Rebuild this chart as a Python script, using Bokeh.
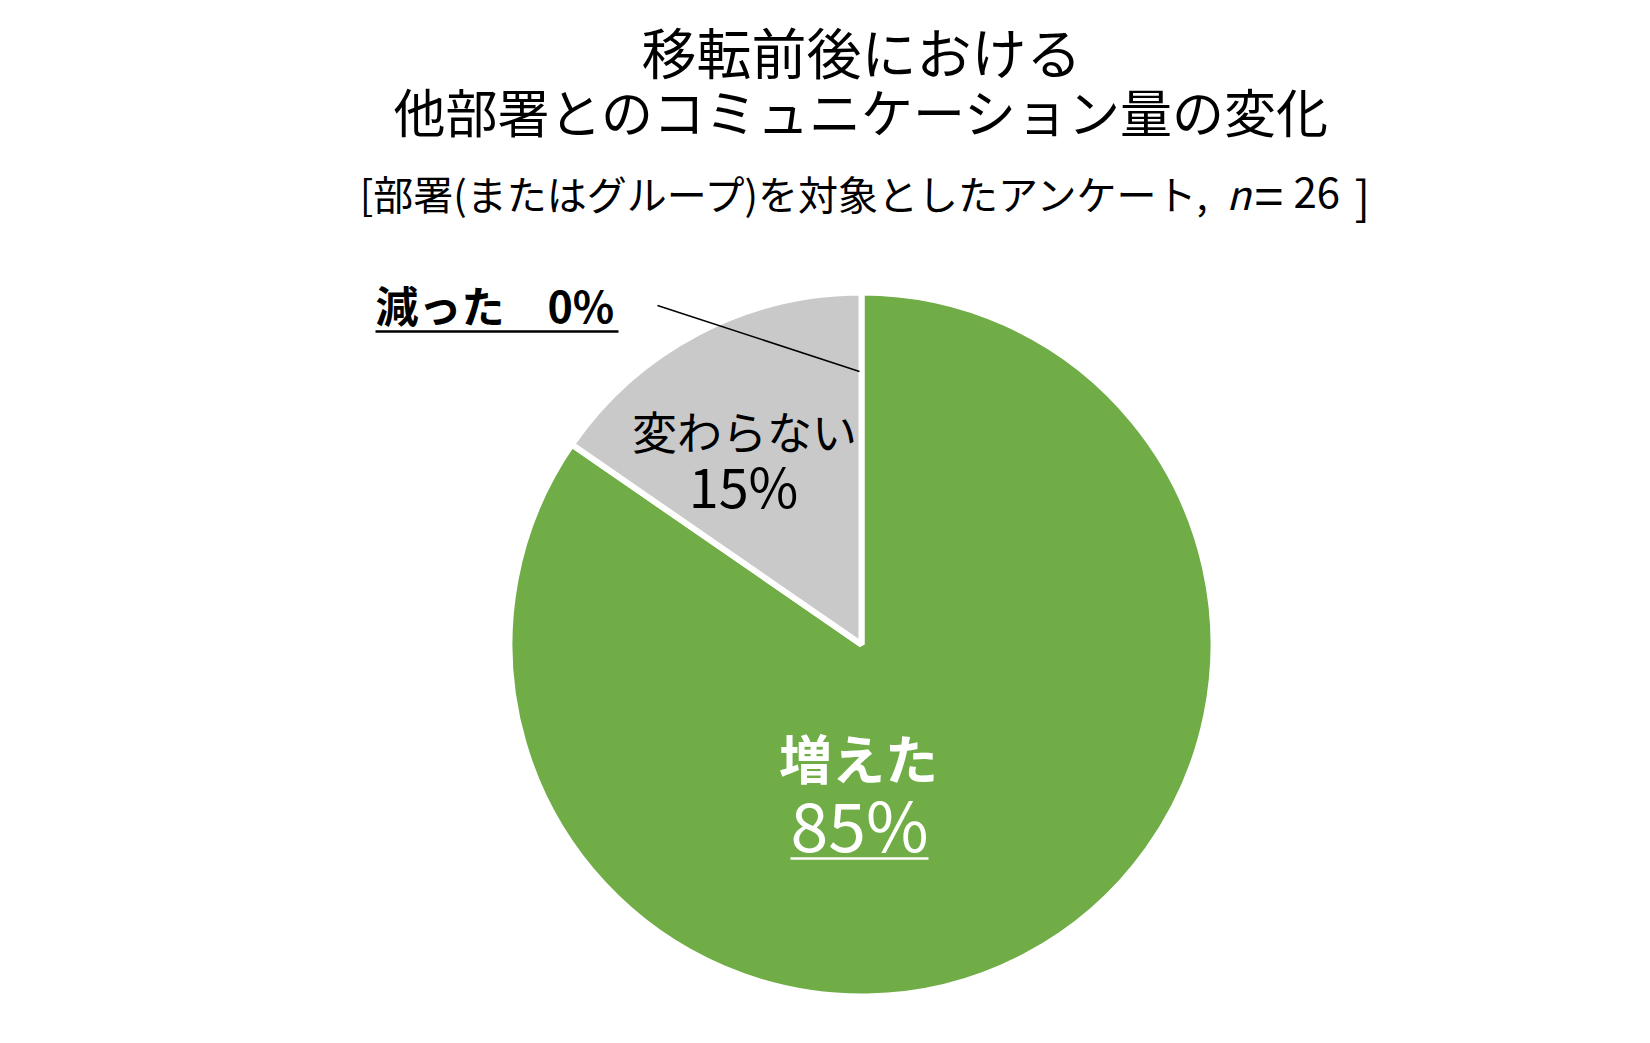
import math
from bokeh.plotting import figure
from bokeh.models import Range1d, ColumnDataSource
from bokeh.core.properties import value
from bokeh.embed import file_html
from bokeh.resources import INLINE

# ---- data ----
categories = ["増えた", "変わらない", "減った"]
counts = [22, 4, 0]
percent_labels = ["85%", "15%", "0%"]
colors = ["#70AD47", "#C9C9C9", "#A5A5A5"]
title_lines = ["移転前後における", "他部署とのコミュニケーション量の変化"]
subtitle_main = "[部署(またはグループ)を対象としたアンケート,"
subtitle_n = "n"
subtitle_eq = "="
subtitle_num = "26"
subtitle_close = "]"

FONT = value("Noto Sans CJK JP")
W, H = 1634, 1027

p = figure(width=W, height=H, x_range=Range1d(0, W), y_range=Range1d(0, H),
           output_backend="svg", toolbar_location=None, min_border=0,
           x_axis_type=None, y_axis_type=None)
p.grid.visible = False
p.outline_line_color = None
p.background_fill_color = "white"
p.border_fill_color = "white"

OFF = 0
def X(px):
    return px - OFF
def Y(py):
    return H + OFF - py

cx, cy, R = X(861), Y(644), 352

total = sum(counts)
starts, ends, cols, names = [], [], [], []
acc = 0
for c, v, col in zip(categories, counts, colors):
    a0 = math.pi / 2 - 2 * math.pi * acc / total
    acc += v
    a1 = math.pi / 2 - 2 * math.pi * acc / total
    if v > 0:
        starts.append(a0); ends.append(a1); cols.append(col); names.append(c)

src = ColumnDataSource(dict(start=starts, end=ends, color=cols, name=names))
p.wedge(x=cx, y=cy, radius=R, start_angle="start", end_angle="end",
        direction="clock", fill_color="color", line_color="white",
        line_width=6, source=src)

# titles
p.text(x=[X(861)], y=[Y(49)], text=[title_lines[0]], text_font=FONT,
       text_font_size="55px", text_align="center", text_baseline="middle",
       text_color="#000000")
p.text(x=[X(861)], y=[Y(110)], text=[title_lines[1]], text_font=FONT,
       text_font_size="52px", text_align="center", text_baseline="middle",
       text_color="#000000")
# subtitle
p.text(x=[X(1211)], y=[Y(192)], text=[subtitle_main], text_font=FONT,
       text_font_size="40px", text_align="right", text_baseline="middle",
       text_color="#000000")
p.text(x=[X(1226)], y=[Y(192)], text=[subtitle_n], text_font=FONT,
       text_font_size="40px", text_font_style="italic", text_align="left",
       text_baseline="middle", text_color="#000000")
p.text(x=[X(1254)], y=[Y(193)], text=[subtitle_eq], text_font=FONT,
       text_font_size="52px", text_align="left", text_baseline="middle",
       text_color="#000000")
p.text(x=[X(1293)], y=[Y(192)], text=[subtitle_num], text_font=FONT,
       text_font_size="42px", text_align="left", text_baseline="middle",
       text_color="#000000")
p.text(x=[X(1354)], y=[Y(194)], text=[subtitle_close], text_font=FONT,
       text_font_size="46px", text_align="left", text_baseline="middle",
       text_color="#000000")

# label: decreased (outside, with leader)
p.text(x=[X(375)], y=[Y(303)], text=[categories[2] + "　" + percent_labels[2]],
       text_font=FONT, text_font_size="43px", text_font_style="bold",
       text_align="left", text_baseline="middle", text_color="#000000")
p.segment(x0=[X(375)], y0=[Y(331)], x1=[X(618)], y1=[Y(331)],
          line_color="#000000", line_width=2.5)
p.segment(x0=[X(657)], y0=[Y(305)], x1=[X(859)], y1=[Y(371)],
          line_color="#000000", line_width=1.5)

# label: unchanged
p.text(x=[X(744)], y=[Y(430)], text=[categories[1]], text_font=FONT,
       text_font_size="45px", text_align="center", text_baseline="middle",
       text_color="#000000")
p.text(x=[X(743)], y=[Y(484)], text=[percent_labels[1]], text_font=FONT,
       text_font_size="54px", text_align="center", text_baseline="middle",
       text_color="#000000")

# label: increased
p.text(x=[X(858)], y=[Y(756)], text=[categories[0]], text_font=FONT,
       text_font_size="53px", text_font_style="bold", text_align="center",
       text_baseline="middle", text_color="#FFFFFF")
p.text(x=[X(859)], y=[Y(822)], text=[percent_labels[0]], text_font=FONT,
       text_font_size="68px", text_align="center", text_baseline="middle",
       text_color="#FFFFFF")
p.segment(x0=[X(790)], y0=[Y(858)], x1=[X(928)], y1=[Y(858)],
          line_color="#FFFFFF", line_width=2.5)

open("out.html", "w").write(file_html(p, INLINE))
